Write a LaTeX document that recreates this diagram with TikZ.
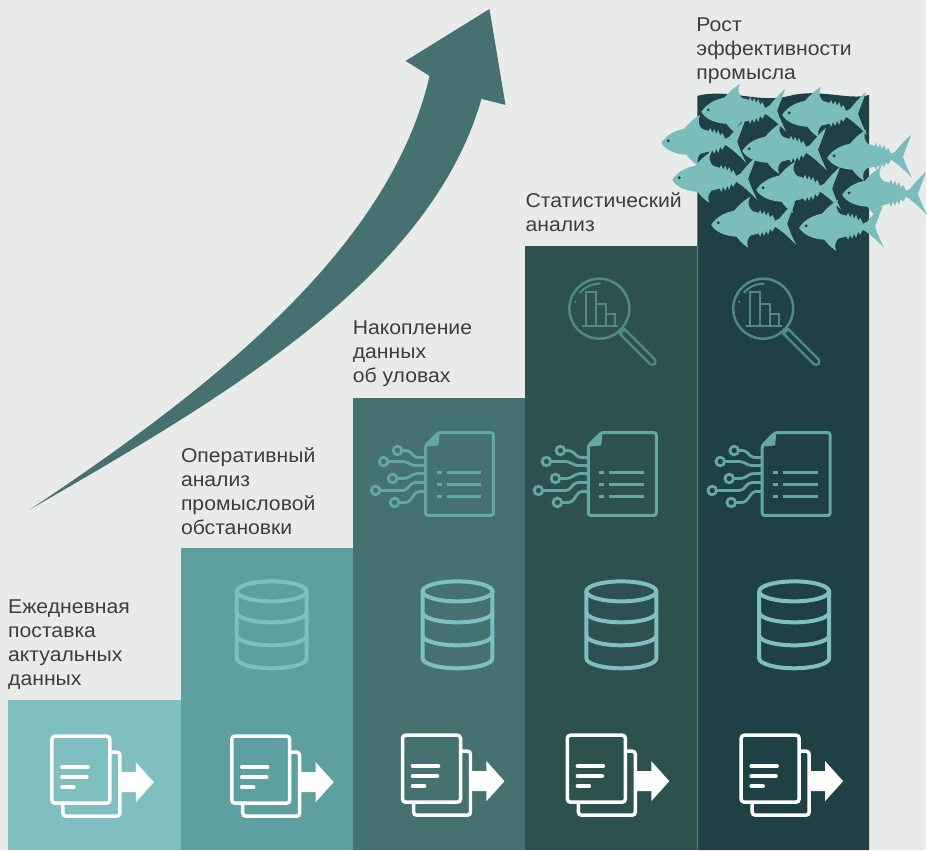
\documentclass[tikz,border=0pt]{standalone}
\usepackage{fontspec}
\setmainfont{Liberation Sans}[FakeStretch=1.06]

\definecolor{bgGrey}{HTML}{E9EBEA}
\definecolor{txtGrey}{HTML}{3D3D3D}
\definecolor{stepA}{HTML}{7FBFBF}
\definecolor{stepB}{HTML}{5EA09F}
\definecolor{stepC}{HTML}{467171}
\definecolor{stepD}{HTML}{2D514F}
\definecolor{stepE}{HTML}{1F4145}
\definecolor{baseTeal}{HTML}{7CC1C0}
\definecolor{docTeal}{HTML}{63A8A5}
\definecolor{lensTeal}{HTML}{4F8A87}
\definecolor{fishTeal}{HTML}{7ABDBB}

\tikzset{
  stepLabel/.style={anchor=north west, inner sep=0pt, align=left, text=txtGrey,
    font=\fontsize{20}{24}\selectfont},
  % document with arrow
  pics/sendDoc/.style={code={
    \draw[white, line width=3.5, rounded corners=3] (0,0) rectangle (58,67);
    \draw[white, line width=3.5, rounded corners=3] (58,16) -- (68,16) -- (68,80) -- (11,80) -- (11,67);
    \draw[white, line width=3.5, line cap=round] (10,31) -- (36,31) (10,41) -- (35,41) (10,51) -- (22,51);
    \fill[white] (68,36) -- (84,36) -- (84,26) -- (102,46) -- (84,66) -- (84,56) -- (68,56) -- cycle;
  }},
  % database cylinder
  pics/dataBase/.style={code={
    \begin{scope}[baseTeal, line width=4]
    \draw (0,12) ellipse [x radius=35, y radius=10];
    \draw (-35,12) -- (-35,79) arc [start angle=180, end angle=0, x radius=35, y radius=10] -- (35,12);
    \draw (-35,33) arc [start angle=180, end angle=0, x radius=35, y radius=10];
    \draw (-35,56) arc [start angle=180, end angle=0, x radius=35, y radius=10];
    \end{scope}
  }},
  % document with wires
  pics/dataDoc/.style={code={
    \begin{scope}[docTeal, line width=3]
    \draw[rounded corners=2.5] (0,13) -- (13,0) -- (68,0) -- (68,83) -- (0,83) -- cycle;
    \filldraw[line width=2, line join=round] (13,1) -- (12,12) -- (1,13) -- cycle;
    \draw (11,40) -- (16,40) (21,40) -- (56,40);
    \draw (11,52) -- (16,52) (21,52) -- (56,52);
    \draw (11,64) -- (16,64) (21,64) -- (56,64);
    \begin{scope}[line width=2.8, rounded corners=3]
    \draw (-28,18) circle [radius=4.3];
    \draw (-42,29) circle [radius=4.3];
    \draw (-33,46) circle [radius=4.3];
    \draw (-50,58) circle [radius=4.3];
    \draw (-31,70) circle [radius=4.3];
    \draw (-23.7,18) -- (-17,18) -- (-10,25) -- (0,25);
    \draw (-37.7,29) -- (-20,29) -- (-13,33) -- (0,33);
    \draw (-28.7,46) -- (-19,46) -- (-11,41) -- (0,41);
    \draw (-45.7,58) -- (-20,58) -- (-13,50) -- (0,50);
    \draw (-26.7,70) -- (-17,70) -- (-9,59) -- (0,59);
    \end{scope}
    \end{scope}
  }},
  % magnifier over bar chart, #1 = fill of the handle
  pics/statLens/.style={code={
    \begin{scope}[lensTeal, line width=2.5]
    \draw (0,0) circle [radius=30];
    \draw[line width=2] (219:25) arc [start angle=219, end angle=273, radius=25];
    \fill (196:25) circle [radius=1.3];
    \draw[line width=2] (-13.5,16) -- (-13.5,-16.5) -- (-3.5,-16.5) -- (-3.5,16)
      (-3.5,-4.5) -- (6.5,-4.5) -- (6.5,16) (6.5,5.5) -- (15.5,5.5) -- (15.5,16);
    \draw[line width=2] (-17.5,17) -- (18.5,17);
    \draw[line width=9, line cap=round] (23,23) -- (53,53);
    \draw[#1, line width=4, line cap=round] (25,25) -- (53,53);
    \end{scope}
  }},
  % tuna facing left, origin at the nose
  pics/tuna/.style={code={
    \fill[fishTeal] (0,2) .. controls (6,-7) and (16,-12) .. (30,-13)
      .. controls (44,-13) and (56,-7) .. (64,-2)
      -- (68,-4) .. controls (73,-10) and (78,-16) .. (84,-21)
      .. controls (80,-9) and (77,-3) .. (76,1)
      .. controls (78,7) and (81,14) .. (85,22)
      .. controls (78,15) and (72,9) .. (64,4)
      .. controls (54,9) and (40,14) .. (28,14)
      .. controls (14,14) and (4,9) .. (0,2) -- cycle;
    \fill[fishTeal] (22,-11) .. controls (27,-17) and (32,-22) .. (39,-26) .. controls (36,-20) and (37,-15) .. (42,-11) -- cycle;
    \fill[fishTeal] (24,12) .. controls (28,18) and (31,21) .. (37,25) .. controls (35,20) and (36,16) .. (40,12) -- cycle;
    \fill[fishTeal] (47,-9) -- (49,-13) -- (51,-8) -- (53,-12) -- (55,-7) -- (57,-11) -- (59,-5) -- (61,-8) -- (64,-2) -- cycle;
    \fill[fishTeal] (47,10) -- (49,14) -- (51,9) -- (53,13) -- (55,8) -- (57,12) -- (59,6) -- (61,9) -- (64,4) -- cycle;
    \fill[stepE] (7,0) circle [radius=1.6];
  }}
}

\begin{document}
\begin{tikzpicture}[x=1pt,y=-1pt]
%Background
\fill[bgGrey] (0,0) rectangle (927,851);

%Shape: growth arrow
\fill[stepC] (30,510) .. controls (210,390) and (390,250) .. (430,76) -- (406,61) -- (490,9)
  -- (506,105) -- (482,99) .. controls (430,280) and (220,400) .. (30,510) -- cycle;

%Shape: steps
\fill[stepA] (8,701) rectangle (181,851);
\fill[stepB] (181,549) rectangle (353,851);
\fill[stepC] (353,398) rectangle (526,851);
\fill[stepD] (526,246) rectangle (698,851);
\fill[stepE] (698,96) .. controls (730,88) and (760,104) .. (790,96)
  .. controls (820,88) and (850,101) .. (870,95) -- (870,851) -- (698,851) -- cycle;

%Icons: bottom row
\pic at (52,737) {sendDoc};
\pic at (232,737) {sendDoc};
\pic at (403,736) {sendDoc};
\pic at (568,736) {sendDoc};
\pic at (742,736) {sendDoc};

%Icons: databases
\pic at (272,580) {dataBase};
\pic at (458,580) {dataBase};
\pic at (622,580) {dataBase};
\pic at (795,580) {dataBase};

%Icons: documents with wires
\pic at (426,433) {dataDoc};
\pic at (589,433) {dataDoc};
\pic at (763,433) {dataDoc};

%Icons: magnifiers
\pic at (600,309) {statLens=stepD};
\pic at (764,309) {statLens=stepE};

%Shoal of tuna
\pic at (702,110) {tuna};
\pic at (783,113) {tuna};
\pic at (662,141) {tuna};
\pic at (743,149) {tuna};
\pic at (828,156) {tuna};
\pic at (673,178) {tuna};
\pic at (757,188) {tuna};
\pic at (843,193) {tuna};
\pic at (712,223) {tuna};
\pic at (800,226) {tuna};

% Text Node
\node[stepLabel] (lblDaily) at (8,600) {Ежедневная\\поставка\\актуальных\\данных};
% Text Node
\node[stepLabel] (lblOperative) at (181,448) {Оперативный\\анализ\\промысловой\\обстановки};
% Text Node
\node[stepLabel] (lblCatch) at (353,321) {Накопление\\данных\\об уловах};
% Text Node
\node[stepLabel] (lblStat) at (526,193) {Статистический\\анализ};
% Text Node
\node[stepLabel] (lblGrowth) at (697,18) {Рост\\эффективности\\промысла};

\end{tikzpicture}
\end{document}
